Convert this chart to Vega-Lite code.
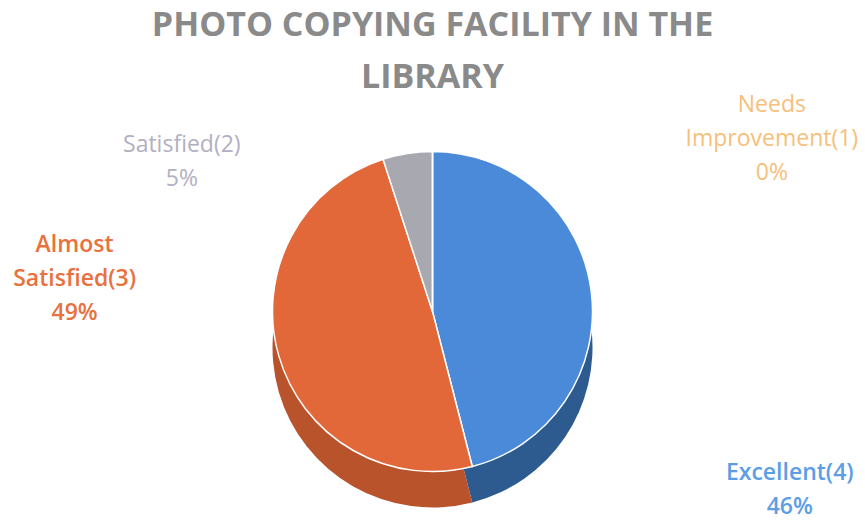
{
  "$schema": "https://vega.github.io/schema/vega-lite/v6.json",
  "width": 865,
  "height": 423,
  "autosize": {"type": "none"},
  "padding": {"top": 100, "left": 0, "right": 0, "bottom": 0},
  "background": "white",
  "title": {
    "text": ["PHOTO COPYING FACILITY IN THE", "LIBRARY"],
    "anchor": "middle",
    "frame": "group",
    "font": "Open Sans",
    "fontSize": 34,
    "fontWeight": "bold",
    "color": "#8a8a8a",
    "lineHeight": 52,
    "offset": -1
  },
  "data": {
    "values": [
      {"category": "Excellent(4)", "value": 46, "label": "Excellent(4)\n46%", "rank": 1},
      {"category": "Almost Satisfied(3)", "value": 49, "label": "Almost\nSatisfied(3)\n49%", "rank": 2},
      {"category": "Satisfied(2)", "value": 5, "label": "Satisfied(2)\n5%", "rank": 3},
      {"category": "Needs Improvement(1)", "value": 0, "label": "Needs\nImprovement(1)\n0%", "rank": 4}
    ]
  },
  "transform": [
    {"stack": "value", "groupby": [], "sort": [{"field": "rank", "order": "ascending"}], "as": ["v0", "v1"]}
  ],
  "layer": [
    {
      "mark": {"type": "arc", "outerRadius": 160, "yOffset": 36},
      "encoding": {
        "theta": {"field": "v0", "type": "quantitative", "scale": {"domain": [0, 100]}},
        "theta2": {"field": "v1"},
        "color": {
          "field": "category",
          "type": "nominal",
          "legend": null,
          "scale": {
            "domain": ["Excellent(4)", "Almost Satisfied(3)", "Satisfied(2)", "Needs Improvement(1)"],
            "range": ["#2d5a8f", "#b8532c", "#7d7d85", "#c99a3a"]
          }
        }
      }
    },
    {
      "mark": {"type": "arc", "outerRadius": 160, "stroke": "white", "strokeWidth": 1.5},
      "encoding": {
        "theta": {"field": "v0", "type": "quantitative", "scale": {"domain": [0, 100]}},
        "theta2": {"field": "v1"},
        "color": {
          "field": "category",
          "type": "nominal",
          "legend": null,
          "scale": {
            "domain": ["Excellent(4)", "Almost Satisfied(3)", "Satisfied(2)", "Needs Improvement(1)"],
            "range": ["#4a8ad8", "#e2683a", "#a8a8b0", "#f5b84a"]
          }
        }
      }
    },
    {
      "transform": [{"filter": "datum.category === 'Excellent(4)'"}],
      "mark": {"type": "text", "radius": 392, "thetaOffset": 1.995, "font": "Open Sans", "fontSize": 23, "fontWeight": 600, "lineHeight": 34, "lineBreak": "\n", "align": "center", "baseline": "middle", "color": "#5b9ee6"},
      "encoding": {
        "theta": {"field": "v0", "type": "quantitative", "scale": {"domain": [0, 100]}},
        "text": {"field": "label"}
      }
    },
    {
      "transform": [{"filter": "datum.category === 'Almost Satisfied(3)'"}],
      "mark": {"type": "text", "radius": 364, "thetaOffset": 2.005, "font": "Open Sans", "fontSize": 23, "fontWeight": 600, "lineHeight": 34, "lineBreak": "\n", "align": "center", "baseline": "middle", "color": "#e8713e"},
      "encoding": {
        "theta": {"field": "v0", "type": "quantitative", "scale": {"domain": [0, 100]}},
        "text": {"field": "label"}
      }
    },
    {
      "transform": [{"filter": "datum.category === 'Satisfied(2)'"}],
      "mark": {"type": "text", "radius": 301, "thetaOffset": -0.67, "font": "Open Sans", "fontSize": 23, "fontWeight": "normal", "lineHeight": 34, "lineBreak": "\n", "align": "center", "baseline": "middle", "color": "#b3afc2"},
      "encoding": {
        "theta": {"field": "v0", "type": "quantitative", "scale": {"domain": [0, 100]}},
        "text": {"field": "label"}
      }
    },
    {
      "transform": [{"filter": "datum.category === 'Needs Improvement(1)'"}],
      "mark": {"type": "text", "radius": 397, "thetaOffset": 1.025, "font": "Open Sans", "fontSize": 23, "fontWeight": "normal", "lineHeight": 34, "lineBreak": "\n", "align": "center", "baseline": "middle", "color": "#f7c07a"},
      "encoding": {
        "theta": {"field": "v0", "type": "quantitative", "scale": {"domain": [0, 100]}},
        "text": {"field": "label"}
      }
    }
  ],
  "resolve": {"scale": {"color": "independent"}},
  "config": {"view": {"stroke": null}}
}
